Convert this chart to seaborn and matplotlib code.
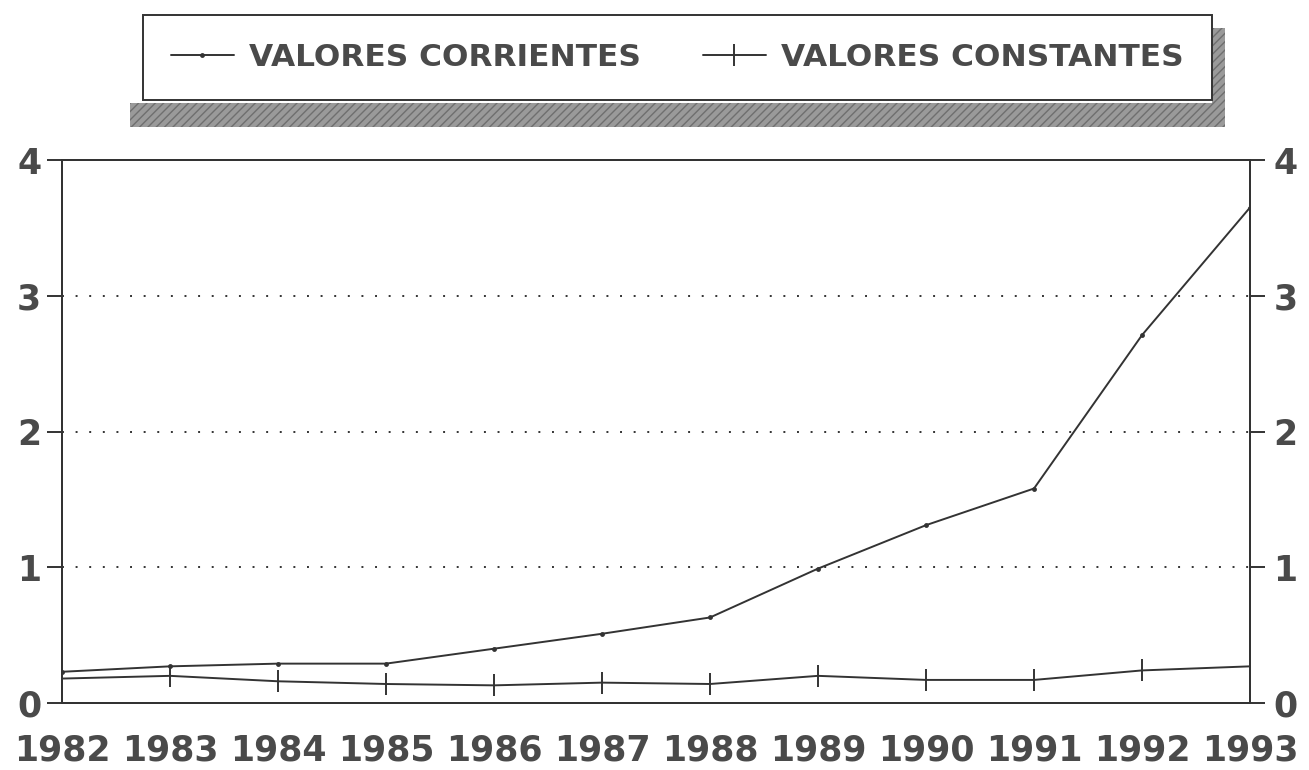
import matplotlib
matplotlib.use("Agg")
import matplotlib.pyplot as plt
import seaborn as sns
from matplotlib.patches import Rectangle

years = list(range(1982, 1994))
corrientes = [0.23, 0.27, 0.29, 0.29, 0.40, 0.51, 0.63, 0.99, 1.31, 1.58, 2.71, 3.65]
constantes = [0.18, 0.20, 0.16, 0.14, 0.13, 0.15, 0.14, 0.20, 0.17, 0.17, 0.24, 0.27]
yticks = [0, 1, 2, 3, 4]
labels = ["VALORES CORRIENTES", "VALORES CONSTANTES"]

sns.set_style("white")
plt.rcParams["font.family"] = ["DejaVu Sans"]
ink = "#333333"
txt = "#4a4a4a"
W, H = 1309, 770

fig = plt.figure(figsize=(13.09, 7.70), dpi=100)
ax = fig.add_axes([62 / W, 1 - 703 / H, (1250 - 62) / W, (703 - 160) / H])

sns.lineplot(x=years, y=corrientes, ax=ax, color=ink, linewidth=1.4,
             marker="o", markersize=3.5, markeredgewidth=0, markeredgecolor=ink,
             label=labels[0])
sns.lineplot(x=years, y=constantes, ax=ax, color=ink, linewidth=1.4,
             marker="|", markersize=16, markeredgewidth=1.4, markeredgecolor=ink,
             label=labels[1])

ax.set_xlim(1982, 1993)
ax.set_ylim(0, 4)
ax.set_xticks(years)
ax.set_yticks(yticks)
ax.set_xticklabels([str(y) for y in years], fontsize=25, fontweight="bold", color=txt)
ax.set_yticklabels([str(v) for v in yticks], fontsize=25, fontweight="bold", color=txt)
for v in yticks[1:-1]:
    ax.axhline(v, color=ink, linestyle=(0, (1, 6)), linewidth=1.4, zorder=0)
for s in ax.spines.values():
    s.set_color(ink)
    s.set_linewidth(1.4)
ax.tick_params(axis="x", direction="out", length=16, width=1.4, color=ink, pad=6)
ax.tick_params(axis="y", direction="out", length=11, width=1.4, color=ink, pad=4)
ax.legend_.remove()

ax2 = ax.twinx()
ax2.set_ylim(0, 4)
ax2.set_yticks(yticks)
ax2.set_yticklabels([str(v) for v in yticks], fontsize=25, fontweight="bold", color=txt)
ax2.tick_params(axis="y", direction="out", length=11, width=1.4, color=ink, pad=6)
for s in ax2.spines.values():
    s.set_color(ink)
    s.set_linewidth(1.4)

# hatched shadow under and right of the legend box
for x0, y0, x1, y1 in [(130, 103, 1225, 127), (1212, 28, 1225, 103)]:
    fig.patches.append(Rectangle((x0 / W, 1 - y1 / H), (x1 - x0) / W, (y1 - y0) / H,
                                 transform=fig.transFigure, facecolor="#9a9a9a",
                                 edgecolor="#6f6f6f", hatch="////", linewidth=0,
                                 zorder=1))

handles, _ = ax.get_legend_handles_labels()
leg = fig.legend(handles, labels, ncol=2, loc="center",
                 bbox_to_anchor=(143 / W, 1 - 103 / H, (1212 - 143) / W, 91 / H),
                 frameon=True, fancybox=False, framealpha=1, edgecolor=ink,
                 prop={"size": 22.5, "weight": "bold"}, handlelength=2.0,
                 handletextpad=0.5, borderpad=0.9, columnspacing=2.0,
                 borderaxespad=0, mode="expand")
leg.get_frame().set_linewidth(1.4)
leg.set_zorder(5)
for t in leg.get_texts():
    t.set_color(txt)

fig.savefig("out.png", dpi=100)
